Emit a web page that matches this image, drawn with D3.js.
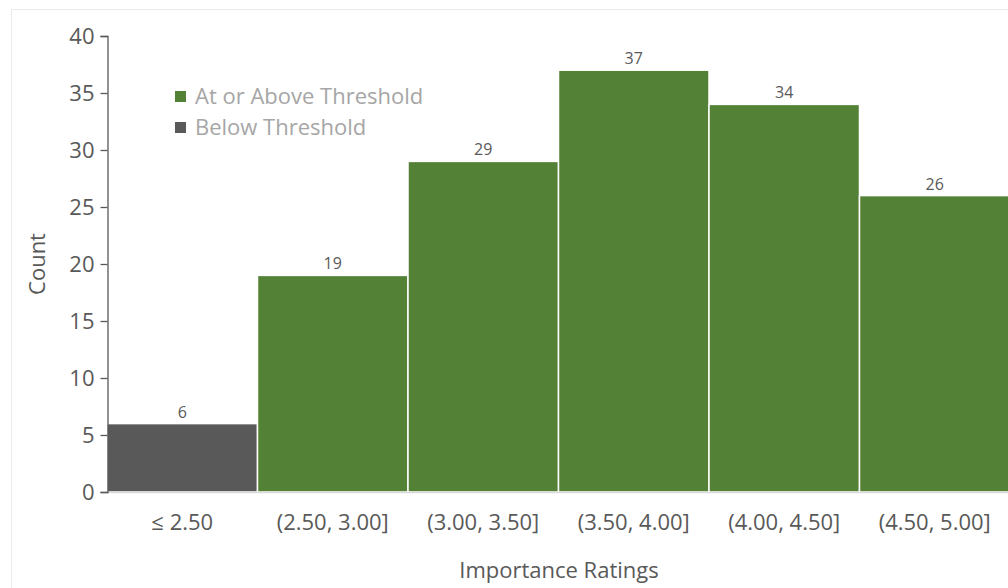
<!DOCTYPE html>
<html><head><meta charset="utf-8">
<script src="https://cdn.jsdelivr.net/npm/d3@7"></script>
<style>html,body{margin:0;padding:0;background:#fff;overflow:hidden}svg{display:block;font-family:"Open Sans","Noto Sans",sans-serif}</style>
</head><body><svg id="c" width="1008" height="588"></svg>
<script>
const categories = ["≤ 2.50","(2.50, 3.00]","(3.00, 3.50]","(3.50, 4.00]","(4.00, 4.50]","(4.50, 5.00]"];
const counts = [6,19,29,37,34,26];
const groups = ["Below","Above","Above","Above","Above","Above"];
const yTicks = [0,5,10,15,20,25,30,35,40];
const legendLabels = ["At or Above Threshold","Below Threshold"];
const colors = {Above:"#538135", Below:"#595959"};

const svg = d3.select("#c");
svg.append("rect").attr("x",11.5).attr("y",9.5).attr("width",1100).attr("height",700)
  .attr("fill","#fff").attr("stroke","#ebebeb");

const x = d3.scaleBand().domain(categories).range([107,1010]).padding(0);
const y = d3.scaleLinear().domain([0,40]).range([492,36]);

svg.append("g").selectAll("rect").data(categories).join("rect")
  .attr("x",d=>x(d)).attr("y",(d,i)=>y(counts[i]))
  .attr("width",x.bandwidth()).attr("height",(d,i)=>y(0)-y(counts[i]))
  .attr("fill",(d,i)=>colors[groups[i]]).attr("stroke","#fff").attr("stroke-width",1.5);

svg.append("g").selectAll("text").data(categories).join("text")
  .attr("x",d=>x(d)+x.bandwidth()/2).attr("y",(d,i)=>y(counts[i])-6)
  .attr("text-anchor","middle").attr("font-size",16).attr("fill","#595959")
  .text((d,i)=>counts[i]);

// x baseline
svg.append("line").attr("x1",107).attr("x2",1010).attr("y1",y(0)+0.5).attr("y2",y(0)+0.5)
  .attr("stroke","#d9d9d9").attr("stroke-width",1.5);

// y axis
const yAxis = d3.axisLeft(y).tickValues(yTicks).tickSize(7).tickPadding(6);
const ga = svg.append("g").attr("transform","translate(107.5,0)").call(yAxis);
ga.select(".domain").attr("stroke","#595959").attr("stroke-width",1.3);
ga.selectAll(".tick line").attr("stroke","#595959").attr("stroke-width",1.3);
ga.selectAll(".tick text").attr("font-size",22).attr("fill","#595959").attr("font-family","Open Sans, sans-serif");

// x labels
const gx = svg.append("g").attr("transform",`translate(0,${y(0)})`).call(d3.axisBottom(x).tickSize(0).tickPadding(22));
gx.select(".domain").remove();
gx.selectAll(".tick text").attr("font-size",22).attr("fill","#595959").attr("font-family","Open Sans, sans-serif");

// axis titles
svg.append("text").attr("transform","translate(45,264) rotate(-90)").attr("text-anchor","middle")
  .attr("font-size",22).attr("fill","#595959").text("Count");
svg.append("text").attr("x",559).attr("y",578).attr("text-anchor","middle")
  .attr("font-size",22).attr("fill","#595959").text("Importance Ratings");

// legend
const lg = svg.append("g");
const lgColors = [colors.Above, colors.Below];
legendLabels.forEach((t,i)=>{
  lg.append("rect").attr("x",175).attr("y",91+i*31).attr("width",11).attr("height",11).attr("fill",lgColors[i]);
  lg.append("text").attr("x",195).attr("y",104+i*31).attr("font-size",22).attr("fill","#a6a6a6").text(t);
});
</script></body></html>
